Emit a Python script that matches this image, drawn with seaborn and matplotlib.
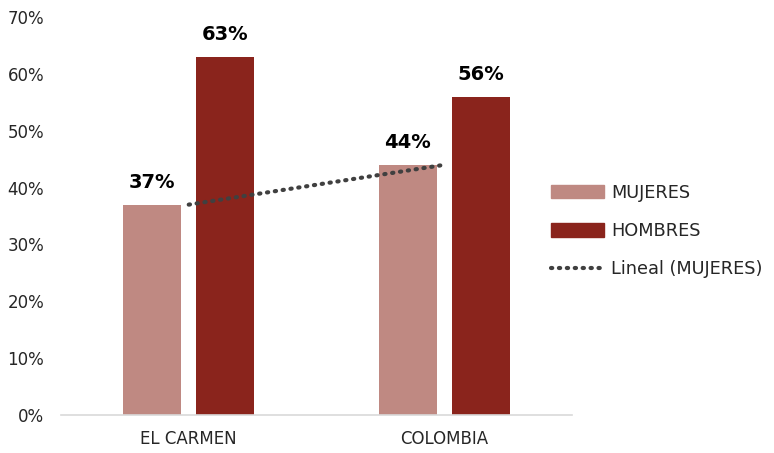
import matplotlib
matplotlib.use("Agg")
import matplotlib.pyplot as plt
import seaborn as sns
import pandas as pd
import numpy as np
from matplotlib.patches import Patch
from matplotlib.lines import Line2D

# datos
lugares = ["EL CARMEN", "COLOMBIA"]
mujeres = [37, 44]
hombres = [63, 56]
series = ["MUJERES", "HOMBRES"]
colores = ["#bf8982", "#8a241c"]

df = pd.DataFrame({
    "lugar": lugares * 2,
    "sexo": ["MUJERES"] * 2 + ["HOMBRES"] * 2,
    "valor": mujeres + hombres,
})

sns.set_style("white")
plt.rcParams["font.family"] = ["DejaVu Sans"]

fig = plt.figure(figsize=(7.74, 4.53), dpi=100)
ax = fig.add_axes([61 / 774, 38 / 453, 511 / 774, 398 / 453])

sns.barplot(data=df, x="lugar", y="valor", hue="sexo", hue_order=series,
            palette=colores, width=0.571, gap=0.2, ax=ax, legend=False,
            saturation=1, edgecolor="none")

# etiquetas de datos
for cont in ax.containers:
    for barra in cont:
        h = barra.get_height()
        ax.text(barra.get_x() + barra.get_width() / 2, h + 2.3, f"{h:.0f}%",
                ha="center", va="bottom", fontsize=14, fontweight="bold",
                color="black")

# línea de tendencia lineal (MUJERES)
estilo_punteado = (0, (0.3, 1.6))
x_pos = np.arange(len(lugares))
coef = np.polyfit(x_pos, mujeres, 1)
sns.lineplot(x=x_pos, y=np.polyval(coef, x_pos), ax=ax, color="#404040",
             linewidth=3, linestyle=estilo_punteado, dash_capstyle="round")

ax.set_ylim(0, 70)
ax.set_xlim(-0.5, 1.5)
ax.set_yticks(range(0, 71, 10))
ax.set_yticklabels([f"{v}%" for v in range(0, 71, 10)])
ax.set_xlabel("")
ax.set_ylabel("")
ax.tick_params(axis="both", length=0, labelsize=12, colors="#262626")
ax.tick_params(axis="y", pad=12)
ax.tick_params(axis="x", pad=11)
for lado in ["top", "right", "left"]:
    ax.spines[lado].set_visible(False)
ax.spines["bottom"].set_color("#d9d9d9")
ax.spines["bottom"].set_linewidth(1.2)

# leyenda
handles = [Patch(color=colores[0]), Patch(color=colores[1]),
           Line2D([0], [0], color="#404040", linewidth=3,
                  linestyle=estilo_punteado, dash_capstyle="round")]
etiquetas = ["MUJERES", "HOMBRES", "Lineal (MUJERES)"]
fig.legend(handles, etiquetas, loc="center left",
           bbox_to_anchor=(535 / 774, 1 - 231 / 453), frameon=False,
           fontsize=12.8, handlelength=3.0, handleheight=0.8,
           labelspacing=1.15, handletextpad=0.4, labelcolor="#262626")

fig.savefig("out.png", dpi=100)
